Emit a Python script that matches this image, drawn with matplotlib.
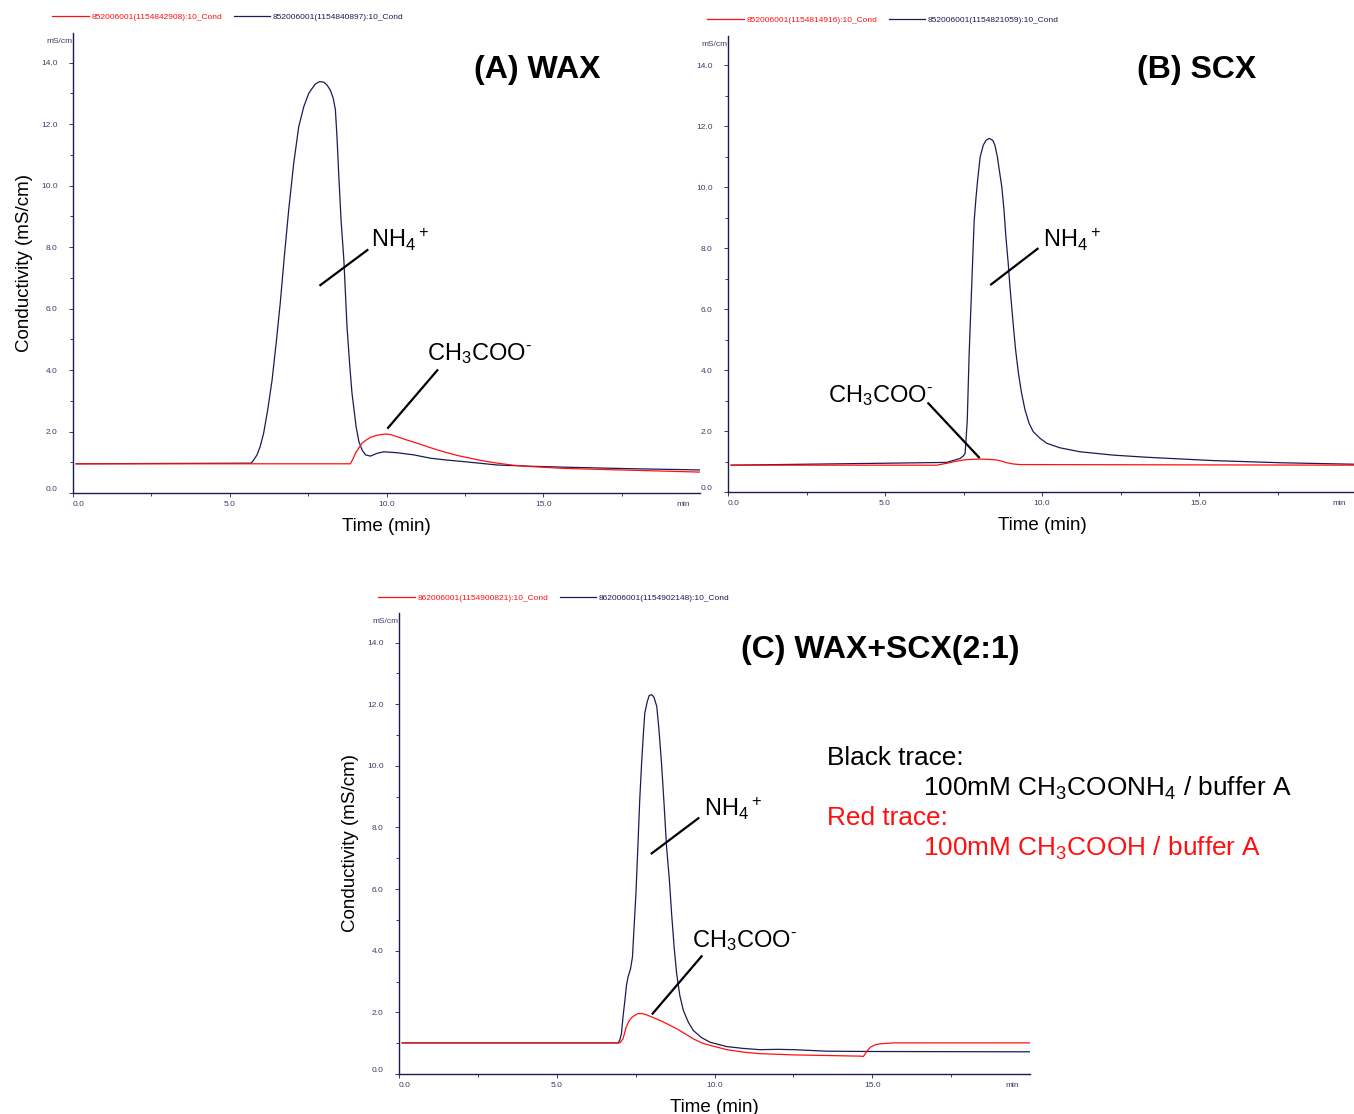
"""
Conductivity chromatograms: WAX, SCX and mixed WAX+SCX columns.
Black (navy) trace = 100 mM ammonium acetate, red trace = 100 mM acetic acid.
"""

import matplotlib.pyplot as plt
from matplotlib.ticker import FixedLocator, FixedFormatter, MultipleLocator

# --------------------------------------------------------------------------
# DATA (time in min, conductivity mS/cm)
# --------------------------------------------------------------------------

# (A) WAX
WAX_BLACK_T = [0.1, 5.68, 5.76, 5.87, 5.97, 6.08, 6.21, 6.35, 6.48, 6.61, 6.74,
               6.88, 7.04, 7.20, 7.36, 7.52, 7.63, 7.73, 7.87, 8.00, 8.10,
               8.21, 8.30, 8.37, 8.42, 8.48, 8.55, 8.64, 8.74, 8.83, 8.90,
               9.03, 9.12, 9.22, 9.33, 9.49, 9.70, 9.91, 10.34, 10.87, 11.41,
               11.94, 12.47, 13.54, 14.60, 15.66, 17.80, 20.0]
WAX_BLACK_V = [0.95, 0.97, 1.07, 1.24, 1.51, 1.94, 2.70, 3.67, 4.87, 6.17, 7.68,
               9.20, 10.72, 11.91, 12.56, 13.00, 13.16, 13.30, 13.38, 13.36, 13.27,
               13.10, 12.84, 12.46, 11.59, 10.29, 8.88, 7.58, 5.41, 4.11, 3.24,
               2.16, 1.67, 1.40, 1.24, 1.20, 1.29, 1.34, 1.31, 1.24, 1.13,
               1.07, 1.02, 0.91, 0.87, 0.84, 0.79, 0.75]
WAX_RED_T = [0.1, 8.85, 8.94, 9.01, 9.12, 9.22, 9.35, 9.49, 9.70, 9.97, 10.13,
             10.34, 10.66, 10.98, 11.41, 11.83, 12.26, 12.68, 13.11, 13.54,
             14.07, 14.60, 15.66, 16.73, 20.0]
WAX_RED_V = [0.95, 0.95, 1.13, 1.29, 1.47, 1.62, 1.72, 1.81, 1.88, 1.92, 1.90,
             1.83, 1.72, 1.62, 1.47, 1.34, 1.22, 1.13, 1.04, 0.97,
             0.90, 0.86, 0.80, 0.77, 0.68]

# (B) SCX
SCX_BLACK_T = [0.1, 6.96, 7.39, 7.49, 7.55, 7.58, 7.62, 7.65, 7.68, 7.72, 7.76,
               7.80, 7.84, 7.90, 7.95, 8.03, 8.13, 8.22, 8.32, 8.43, 8.50,
               8.58, 8.64, 8.72, 8.79, 8.85, 8.92, 8.98, 9.09, 9.16, 9.25,
               9.35, 9.46, 9.59, 9.72, 9.94, 10.15, 10.57, 11.21, 12.27, 13.33,
               15.46, 17.58, 19.49, 20.0]
SCX_BLACK_V = [0.88, 0.97, 1.10, 1.18, 1.26, 1.70, 2.35, 3.45, 4.53, 5.64, 6.72,
               7.83, 8.90, 9.68, 10.23, 10.99, 11.38, 11.54, 11.60, 11.54, 11.38,
               10.99, 10.56, 10.01, 9.25, 8.37, 7.55, 6.73, 5.42, 4.66, 3.89,
               3.24, 2.69, 2.25, 1.98, 1.76, 1.60, 1.45, 1.32, 1.21, 1.14,
               1.03, 0.96, 0.92, 0.91]
SCX_RED_T = [0.1, 6.65, 6.80, 6.96, 7.22, 7.49, 7.76, 8.03, 8.30, 8.56, 8.72,
             8.88, 9.08, 9.30, 20.0]
SCX_RED_V = [0.88, 0.88, 0.91, 0.94, 1.00, 1.05, 1.07, 1.08, 1.07, 1.05, 1.01,
             0.96, 0.92, 0.90, 0.88]

# (C) WAX+SCX (2:1)
MIX_BLACK_T = [0.1, 6.95, 7.00, 7.05, 7.10, 7.16, 7.21, 7.26, 7.34, 7.40, 7.44,
               7.51, 7.58, 7.63, 7.69, 7.74, 7.79, 7.87, 7.93, 8.01, 8.08,
               8.17, 8.24, 8.32, 8.40, 8.48, 8.57, 8.64, 8.72, 8.80, 8.90,
               9.01, 9.17, 9.33, 9.59, 9.86, 10.39, 10.91, 11.44, 12.00, 12.50,
               13.56, 15.0, 20.0]
MIX_BLACK_V = [1.01, 1.01, 1.11, 1.31, 1.85, 2.39, 2.88, 3.15, 3.42, 3.80, 4.56,
               5.86, 7.59, 8.89, 10.09, 10.95, 11.71, 12.09, 12.28, 12.31, 12.23,
               11.93, 11.17, 10.09, 8.79, 7.38, 6.29, 5.21, 4.12, 3.26, 2.55,
               2.07, 1.68, 1.41, 1.18, 1.03, 0.89, 0.83, 0.79, 0.80, 0.79,
               0.74, 0.73, 0.72]
MIX_RED_T = [0.1, 7.00, 7.10, 7.20, 7.29, 7.37, 7.48, 7.58, 7.71, 7.85, 8.06,
             8.27, 8.53, 8.80, 9.06, 9.33, 9.59, 9.86, 10.39, 10.91, 11.44,
             12.50, 14.62, 14.72, 14.83, 14.94, 15.10, 15.25, 15.68, 20.0]
MIX_RED_V = [1.01, 1.01, 1.14, 1.52, 1.72, 1.83, 1.91, 1.96, 1.96, 1.92, 1.83,
             1.74, 1.61, 1.47, 1.31, 1.14, 1.01, 0.93, 0.79, 0.71, 0.66,
             0.62, 0.58, 0.57, 0.74, 0.87, 0.95, 0.98, 1.01, 1.01]

PANEL_TITLES = ["(A) WAX", "(B) SCX", "(C) WAX+SCX(2:1)"]
LEGEND_LABELS = [
    ("852006001(1154842908):10_Cond", "852006001(1154840897):10_Cond"),
    ("852006001(1154814916):10_Cond", "852006001(1154821059):10_Cond"),
    ("862006001(1154900821):10_Cond", "862006001(1154902148):10_Cond"),
]
X_TICKS = [0, 5, 10, 15, 19.45]
X_TICK_LABELS = ["0.0", "5.0", "10.0", "15.0", "min"]
Y_TICKS = [0, 2, 4, 6, 8, 10, 12, 14]

NH4 = r"NH$_4$$^+$"
ACETATE = r"CH$_3$COO$^{\text{-}}$"

# --------------------------------------------------------------------------
# STYLE
# --------------------------------------------------------------------------
plt.rcParams["font.family"] = ["Liberation Sans", "DejaVu Sans"]
plt.rcParams["mathtext.fontset"] = "custom"
plt.rcParams["mathtext.rm"] = "Liberation Sans"
plt.rcParams["mathtext.it"] = "Liberation Sans:italic"
plt.rcParams["mathtext.bf"] = "Liberation Sans:bold"

NAVY = "#1b1b55"
RED = "#ff1010"
TICK_COLOR = "#3c3c66"

W, H = 1354, 1114


def px_axes(left, top, right, bottom):
    """Axes rectangle from pixel edges (origin at top-left of the image)."""
    return [left / W, 1 - bottom / H, (right - left) / W, (bottom - top) / H]


def setup_axes(ax):
    ax.set_xlim(0, 20)
    ax.set_ylim(0, 14.96)
    for side in ("top", "right"):
        ax.spines[side].set_visible(False)
    for side in ("left", "bottom"):
        ax.spines[side].set_color(NAVY)
        ax.spines[side].set_linewidth(1.0)

    ax.xaxis.set_major_locator(FixedLocator(X_TICKS))
    ax.xaxis.set_major_formatter(FixedFormatter(X_TICK_LABELS))
    ax.xaxis.set_minor_locator(FixedLocator([2.5, 7.5, 12.5, 17.5]))
    ax.yaxis.set_major_locator(FixedLocator(Y_TICKS))
    ax.yaxis.set_major_formatter(FixedFormatter([f"{v:.1f}" for v in Y_TICKS]))
    ax.yaxis.set_minor_locator(MultipleLocator(1.0))

    ax.tick_params(which="both", colors=NAVY, labelcolor=TICK_COLOR,
                   labelsize=6, direction="out", width=0.6)
    ax.tick_params(which="major", length=3, pad=3)
    ax.tick_params(which="minor", length=2)
    ax.tick_params(axis="y", which="major", pad=8)

    # the software nudges the first labels away from the corner
    ax.get_xticklabels()[0].set_ha("left")
    ax.get_yticklabels()[0].set_va("bottom")
    ax.xaxis.get_major_ticks()[-1].tick1line.set_visible(False)

    ax.text(0, 0.99, "mS/cm", transform=ax.transAxes, ha="right", va="top",
            fontsize=6, color=TICK_COLOR)


def draw_panel(ax, black, red, labels, legend_xy):
    ax.plot(red[0], red[1], color=RED, lw=0.9, label=labels[0], zorder=3)
    ax.plot(black[0], black[1], color=NAVY, lw=0.9, label=labels[1], zorder=2)
    setup_axes(ax)
    leg = ax.legend(loc="center left", ncol=2, frameon=False, fontsize=6,
                    bbox_to_anchor=(legend_xy[0] / W, 1 - legend_xy[1] / H),
                    bbox_transform=ax.figure.transFigure,
                    borderpad=0, borderaxespad=0, handlelength=4.4,
                    handletextpad=0.3, columnspacing=1.4)
    for txt, col in zip(leg.get_texts(), [RED, NAVY]):
        txt.set_color(col)
    ax.set_xlabel("Time (min)", fontsize=13.5, labelpad=7)


def pointer(ax, start, end, label, text_xy, ha="left"):
    """Straight leader line plus peak label."""
    ax.plot([start[0], end[0]], [start[1], end[1]], color="black", lw=1.6)
    ax.text(text_xy[0], text_xy[1], label, fontsize=17, ha=ha, va="center")


# --------------------------------------------------------------------------
# FIGURE
# --------------------------------------------------------------------------
fig = plt.figure(figsize=(W / 100, H / 100), dpi=100)

ax_a = fig.add_axes(px_axes(73, 33, 700, 493))
ax_b = fig.add_axes(px_axes(728, 36, 1356, 492))
ax_c = fig.add_axes(px_axes(399, 613, 1030, 1074))

draw_panel(ax_a, (WAX_BLACK_T, WAX_BLACK_V), (WAX_RED_T, WAX_RED_V),
           LEGEND_LABELS[0], (52, 17))
draw_panel(ax_b, (SCX_BLACK_T, SCX_BLACK_V), (SCX_RED_T, SCX_RED_V),
           LEGEND_LABELS[1], (707, 20))
draw_panel(ax_c, (MIX_BLACK_T, MIX_BLACK_V), (MIX_RED_T, MIX_RED_V),
           LEGEND_LABELS[2], (378, 598))

ax_a.set_ylabel("Conductivity (mS/cm)", fontsize=13.5, labelpad=6)
ax_c.set_ylabel("Conductivity (mS/cm)", fontsize=13.5, labelpad=6)

# panel titles
ax_a.text(14.82, 13.76, PANEL_TITLES[0], fontsize=23, fontweight="bold",
          ha="center", va="center")
ax_b.text(14.94, 13.84, PANEL_TITLES[1], fontsize=23, fontweight="bold",
          ha="center", va="center")
ax_c.text(15.25, 13.77, PANEL_TITLES[2], fontsize=23, fontweight="bold",
          ha="center", va="center")

# peak labels
pointer(ax_a, (7.89, 6.76), (9.39, 7.90), NH4, (9.52, 8.23))
pointer(ax_a, (10.05, 2.12), (11.62, 3.99), ACETATE, (11.30, 4.55))
pointer(ax_b, (8.38, 6.81), (9.86, 7.98), NH4, (10.02, 8.28))
pointer(ax_b, (7.99, 1.14), (6.38, 2.91), ACETATE, (6.53, 3.15), ha="right")
pointer(ax_c, (8.01, 7.16), (9.49, 8.30), NH4, (9.67, 8.62))
pointer(ax_c, (8.04, 1.96), (9.59, 3.82), ACETATE, (9.30, 4.34))

# explanation of the traces
fig.text(827 / W, 1 - 758 / H, "Black trace:", fontsize=18.9, va="center")
fig.text(923 / W, 1 - 788 / H, r"100mM CH$_3$COONH$_4$ / buffer A",
         fontsize=18.9, va="center")
fig.text(827 / W, 1 - 818 / H, "Red trace:", fontsize=18.9, va="center",
         color=RED)
fig.text(923 / W, 1 - 848 / H, r"100mM CH$_3$COOH / buffer A",
         fontsize=18.9, va="center", color=RED)

fig.savefig("out.png", dpi=100)
